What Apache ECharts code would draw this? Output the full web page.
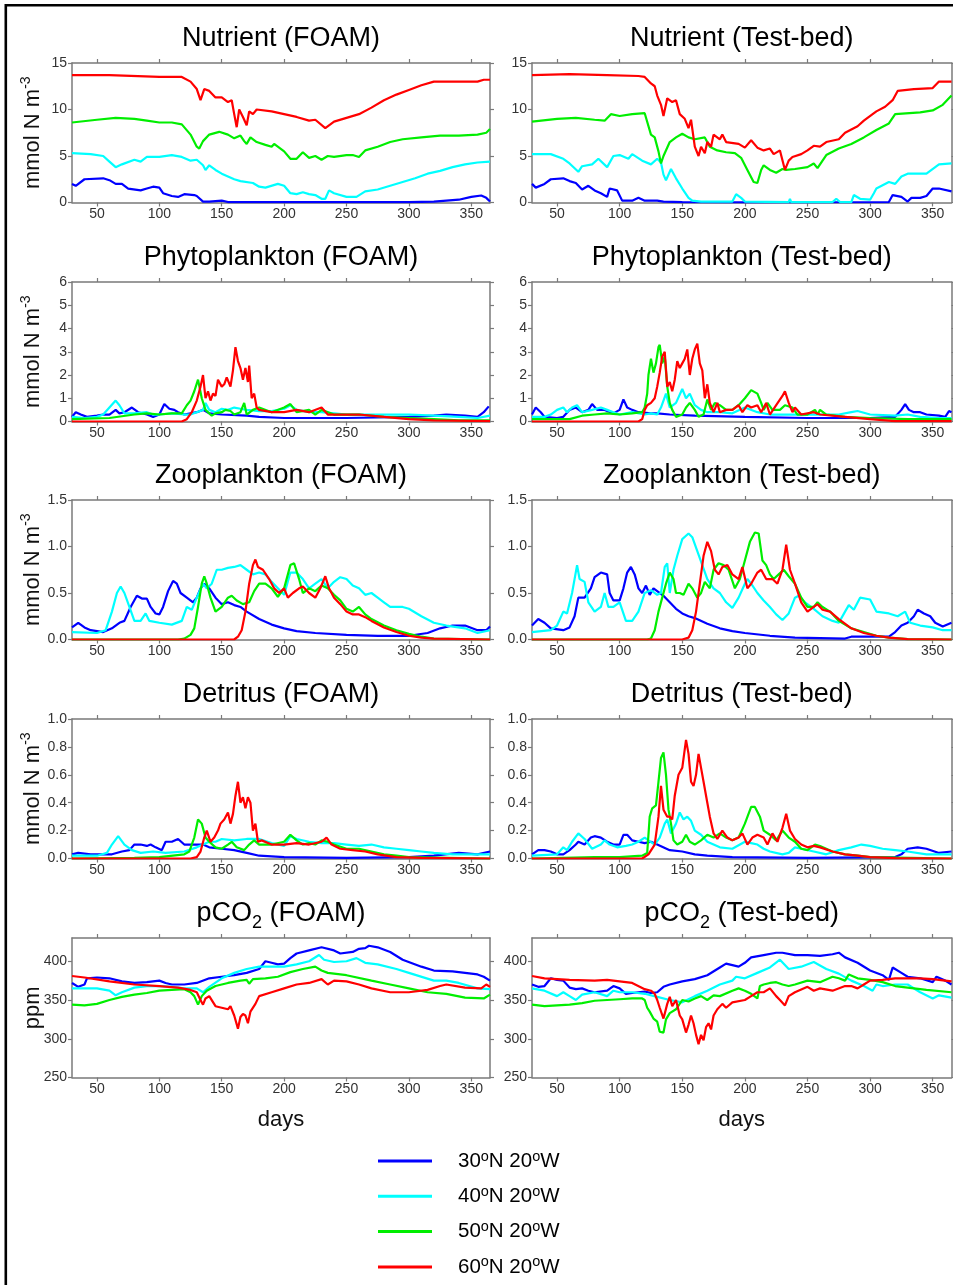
<!DOCTYPE html>
<html>
<head>
<meta charset="utf-8">
<script src="https://cdn.jsdelivr.net/npm/echarts@6/dist/echarts.min.js"></script>
<style>html,body{margin:0;padding:0;background:#fff}#c{width:953px;height:1285px}</style>
</head>
<body>
<div id="c"></div>
<script>
// ---------- categories / labels ----------
const LEGEND_NAMES = ['30°N 20°W', '40°N 20°W', '50°N 20°W', '60°N 20°W'];
const COLORS = ['#0000ff', '#00ffff', '#00ee00', '#ff0000'];
const X_TICKS = [50, 100, 150, 200, 250, 300, 350];
const ROW_TITLES = ['Nutrient', 'Phytoplankton', 'Zooplankton', 'Detritus', 'pCO{sub|2}'];
const COL_TITLES = ['FOAM', 'Test-bed'];
const Y_TICKS_NUT = [0, 5, 10, 15];
const Y_TICKS_PHY = [0, 1, 2, 3, 4, 5, 6];
const Y_TICKS_ZOO = [0, 0.5, 1.0, 1.5];
const Y_TICKS_DET = [0, 0.2, 0.4, 0.6, 0.8, 1.0];
const Y_TICKS_CO2 = [250, 300, 350, 400];

// ---------- Nutrient ----------
const NUT_FOAM_B = [[30,2.0],[33,1.8],[40,2.5],[55,2.6],[60,2.4],[65,2.0],[70,2.0],[75,1.5],[85,1.3],[90,1.5],[95,1.7],[100,1.6],[103,1.0],[110,0.7],[115,0.6],[120,0.9],[128,0.8],[130,0.7],[135,0.1],[140,0.1],[150,0.2],[155,0.05],[170,0.05],[200,0.03],[300,0.05],[320,0.1],[340,0.3],[350,0.6],[358,0.75],[362,0.5],[365,0.1]];
const NUT_FOAM_C = [[30,5.3],[45,5.2],[55,5.0],[60,4.4],[65,3.8],[70,4.1],[80,4.6],[85,4.4],[90,4.9],[100,4.9],[110,5.1],[118,4.9],[125,4.5],[130,4.6],[135,4.0],[137,3.5],[140,4.0],[145,3.5],[150,3.1],[160,2.5],[165,2.3],[175,2.1],[180,1.7],[185,1.6],[195,2.0],[200,1.8],[205,1.0],[210,0.9],[215,1.1],[220,0.9],[225,0.8],[230,0.4],[233,0.4],[236,1.3],[240,1.0],[250,0.6],[258,0.6],[265,1.2],[275,1.4],[285,1.8],[295,2.2],[305,2.6],[315,3.1],[325,3.4],[335,3.8],[345,4.1],[355,4.3],[365,4.4]];
const NUT_FOAM_G = [[30,8.6],[50,8.9],[65,9.1],[80,9.0],[90,8.8],[100,8.6],[110,8.6],[118,8.4],[125,7.3],[130,6.0],[132,5.8],[135,6.6],[140,7.3],[148,7.6],[155,7.3],[160,6.9],[165,7.2],[168,6.6],[170,6.3],[173,7.0],[178,6.5],[185,6.2],[190,6.0],[192,6.3],[200,5.5],[205,4.7],[210,4.7],[215,5.4],[220,4.8],[225,5.0],[230,4.6],[235,5.0],[240,4.9],[250,5.1],[255,5.1],[260,4.9],[265,5.6],[275,6.0],[285,6.5],[295,6.8],[310,7.0],[325,7.2],[340,7.2],[355,7.3],[362,7.5],[365,7.9]];
const NUT_FOAM_R = [[30,13.7],[60,13.7],[100,13.5],[118,13.5],[125,13.0],[130,12.2],[133,11.0],[136,12.2],[140,12.0],[145,11.3],[150,11.3],[155,10.8],[158,11.0],[160,9.5],[162,8.1],[164,10.0],[167,9.2],[170,8.3],[172,9.8],[175,9.5],[178,10.0],[190,9.8],[200,9.5],[210,9.2],[220,8.8],[225,8.9],[233,8.0],[240,8.7],[250,9.1],[260,9.5],[270,10.2],[280,11.0],[290,11.6],[300,12.1],[310,12.6],[320,13.0],[330,13.0],[340,13.0],[355,13.0],[360,13.2],[365,13.2]];
const NUT_TB_B = [[30,2.0],[33,1.6],[40,2.0],[45,2.5],[55,2.6],[60,2.3],[65,2.1],[70,1.4],[75,1.8],[80,1.3],[85,1.0],[90,0.6],[92,1.5],[98,1.3],[102,0.2],[110,0.2],[115,0.5],[120,0.2],[130,0.2],[135,0.1],[150,0.05],[200,0.02],[315,0.05],[318,0.8],[325,0.6],[330,0.1],[333,0.5],[340,0.5],[345,0.7],[350,1.5],[355,1.5],[365,1.2]];
const NUT_TB_C = [[30,5.2],[45,5.2],[55,4.7],[60,4.2],[67,3.3],[70,3.9],[78,4.1],[83,4.7],[90,3.8],[95,5.0],[100,5.1],[107,4.7],[110,5.2],[118,4.5],[125,4.1],[130,4.7],[133,4.3],[135,3.0],[137,2.4],[141,3.6],[145,2.6],[150,1.5],[155,0.5],[158,0.2],[165,0.1],[190,0.1],[193,0.9],[197,0.5],[200,0.1],[235,0.05],[236,0.4],[237,0.05],[270,0.05],[273,0.4],[276,0.05],[285,0.05],[287,0.8],[292,0.4],[300,0.3],[303,1.0],[305,1.5],[315,2.2],[320,2.0],[325,2.8],[330,3.1],[345,3.1],[355,4.1],[365,4.2]];
const NUT_TB_G = [[30,8.7],[50,9.0],[65,9.1],[80,8.9],[88,8.8],[93,9.5],[100,9.3],[110,9.5],[120,9.6],[125,7.3],[128,7.0],[131,5.5],[133,4.2],[135,5.0],[140,6.5],[145,7.0],[150,7.4],[155,7.0],[160,6.8],[168,7.0],[172,6.0],[178,5.6],[185,5.4],[192,5.3],[197,4.8],[202,3.5],[207,2.2],[210,2.1],[213,3.5],[215,4.0],[220,3.5],[225,3.2],[230,3.6],[233,3.5],[240,3.6],[250,3.8],[255,4.2],[258,3.7],[265,5.1],[275,5.8],[285,6.3],[295,7.0],[305,7.8],[315,8.5],[320,9.5],[340,9.7],[350,9.9],[358,10.5],[365,11.5]];
const NUT_TB_R = [[30,13.7],[60,13.8],[90,13.7],[115,13.6],[120,13.5],[125,12.8],[128,12.5],[130,11.5],[133,10.5],[135,9.3],[138,11.2],[142,10.8],[145,11.0],[148,9.5],[152,9.0],[155,8.0],[157,8.9],[160,6.0],[163,5.0],[165,6.0],[168,5.3],[170,6.5],[173,6.0],[175,7.3],[180,6.8],[182,7.3],[185,6.5],[195,6.3],[200,5.9],[205,6.7],[210,5.9],[215,5.6],[220,5.8],[223,5.2],[228,5.6],[232,3.5],[235,4.5],[238,4.9],[245,5.2],[250,5.6],[255,6.1],[260,6.0],[265,6.5],[275,6.8],[280,7.5],[290,8.2],[295,8.8],[305,9.8],[312,10.3],[318,11.0],[322,12.0],[335,12.2],[350,12.3],[355,13.0],[365,13.0]];

// ---------- Phytoplankton ----------
const PHY_FOAM_B = [[30,0.2],[33,0.4],[37,0.3],[42,0.2],[50,0.25],[55,0.3],[60,0.3],[65,0.5],[68,0.35],[72,0.4],[78,0.6],[83,0.4],[90,0.3],[95,0.2],[100,0.3],[104,0.75],[108,0.55],[112,0.5],[115,0.4],[120,0.3],[130,0.4],[135,0.5],[140,0.35],[150,0.3],[170,0.25],[180,0.2],[200,0.15],[250,0.15],[300,0.2],[320,0.25],[330,0.3],[345,0.25],[355,0.2],[360,0.4],[364,0.65]];
const PHY_FOAM_C = [[30,0.2],[40,0.15],[50,0.2],[55,0.3],[60,0.6],[65,0.9],[68,0.7],[72,0.35],[80,0.35],[90,0.4],[95,0.3],[100,0.3],[110,0.35],[120,0.3],[125,0.3],[130,0.4],[135,0.5],[137,0.8],[140,0.5],[145,0.4],[150,0.55],[155,0.5],[160,0.6],[165,0.55],[170,0.5],[180,0.45],[190,0.45],[200,0.55],[205,0.7],[210,0.5],[220,0.4],[230,0.4],[240,0.35],[250,0.3],[270,0.3],[300,0.3],[320,0.25],[340,0.2],[355,0.15],[365,0.25]];
const PHY_FOAM_G = [[30,0.1],[60,0.15],[80,0.3],[90,0.35],[100,0.3],[110,0.35],[118,0.35],[122,0.7],[125,0.9],[128,1.3],[131,1.8],[134,1.0],[137,0.5],[142,0.25],[145,0.35],[150,0.4],[153,0.5],[157,0.45],[160,0.3],[165,0.4],[168,0.8],[170,0.3],[175,0.5],[180,0.6],[190,0.4],[200,0.6],[205,0.75],[210,0.4],[220,0.5],[225,0.3],[230,0.5],[240,0.3],[250,0.3],[260,0.3],[280,0.2],[300,0.15],[320,0.1],[340,0.05],[365,0.05]];
const PHY_FOAM_R = [[30,0.0],[118,0.0],[122,0.1],[126,0.4],[130,0.9],[133,1.5],[135,2.0],[137,1.0],[139,1.3],[141,0.9],[143,1.2],[145,1.1],[147,1.8],[150,1.5],[152,1.6],[154,1.9],[157,1.5],[159,2.2],[161,3.2],[163,2.6],[165,2.3],[167,1.8],[169,2.3],[171,1.7],[172,2.4],[174,1.0],[176,1.2],[178,0.6],[180,0.5],[190,0.4],[200,0.4],[210,0.5],[220,0.4],[230,0.6],[235,0.3],[250,0.3],[260,0.3],[280,0.2],[300,0.1],[320,0.05],[365,0.02]];
const PHY_TB_B = [[30,0.3],[33,0.6],[37,0.4],[40,0.2],[50,0.15],[55,0.2],[60,0.5],[65,0.6],[70,0.4],[75,0.5],[78,0.75],[82,0.5],[88,0.5],[95,0.35],[100,0.5],[103,0.95],[106,0.6],[110,0.5],[115,0.4],[125,0.35],[130,0.35],[140,0.3],[160,0.25],[200,0.2],[250,0.15],[300,0.15],[320,0.2],[325,0.5],[328,0.75],[331,0.5],[335,0.4],[340,0.4],[345,0.3],[355,0.25],[360,0.2],[363,0.45],[365,0.4]];
const PHY_TB_C = [[30,0.2],[40,0.2],[45,0.3],[50,0.5],[55,0.6],[58,0.4],[62,0.6],[66,0.7],[70,0.4],[78,0.5],[85,0.6],[90,0.5],[95,0.4],[100,0.3],[110,0.4],[120,0.3],[125,0.35],[130,0.3],[133,0.6],[137,1.2],[140,0.6],[145,0.8],[150,1.4],[153,1.0],[156,1.2],[160,0.7],[165,0.5],[170,0.4],[180,0.4],[190,0.35],[200,0.6],[210,0.4],[220,0.3],[240,0.3],[260,0.3],[275,0.3],[285,0.4],[290,0.45],[300,0.3],[320,0.25],[330,0.3],[340,0.2],[355,0.15],[365,0.15]];
const PHY_TB_G = [[30,0.1],[60,0.1],[70,0.25],[80,0.3],[90,0.35],[100,0.3],[110,0.35],[118,0.4],[120,0.6],[122,1.2],[123,2.0],[125,2.7],[127,2.1],[129,2.5],[131,3.2],[132,3.3],[134,2.5],[136,2.8],[138,1.5],[140,0.8],[142,0.5],[145,0.2],[150,0.3],[153,0.6],[156,0.8],[160,0.5],[163,0.2],[167,0.3],[170,0.95],[173,0.5],[176,0.8],[180,0.7],[185,0.5],[190,0.5],[195,0.7],[200,1.0],[205,1.35],[210,1.2],[213,0.8],[215,0.5],[218,0.8],[222,0.5],[228,0.5],[232,0.7],[238,0.6],[242,0.3],[250,0.3],[256,0.5],[258,0.3],[260,0.5],[265,0.3],[280,0.2],[300,0.15],[330,0.1],[365,0.1]];
const PHY_TB_R = [[30,0.0],[115,0.0],[118,0.1],[120,0.5],[122,0.7],[125,0.8],[128,1.0],[130,1.5],[132,2.1],[134,2.8],[136,3.0],[138,1.5],[140,1.7],[142,1.3],[144,1.8],[146,2.6],[148,2.3],[150,2.5],[152,2.7],[154,3.1],[156,2.0],[158,2.7],[160,3.1],[162,3.35],[164,2.5],[166,2.2],[168,1.0],[170,1.6],[172,0.8],[175,0.4],[178,0.8],[180,0.4],[185,0.5],[190,0.5],[195,0.7],[198,0.4],[202,0.7],[205,0.6],[210,0.7],[213,0.4],[217,0.8],[220,0.3],[225,0.7],[230,1.1],[232,1.3],[235,0.8],[238,0.4],[240,0.6],[245,0.3],[255,0.4],[260,0.3],[280,0.2],[300,0.1],[320,0.02],[365,0.02]];

// ---------- Zooplankton ----------
const ZOO_FOAM_B = [[30,0.13],[35,0.18],[40,0.13],[45,0.1],[55,0.08],[62,0.12],[68,0.18],[72,0.2],[77,0.35],[82,0.47],[86,0.44],[90,0.44],[93,0.35],[97,0.28],[100,0.27],[103,0.35],[107,0.52],[111,0.63],[114,0.6],[117,0.5],[122,0.45],[127,0.4],[130,0.45],[133,0.55],[136,0.6],[140,0.55],[145,0.45],[150,0.38],[155,0.4],[160,0.37],[165,0.35],[170,0.3],[180,0.22],[190,0.16],[200,0.12],[210,0.09],[225,0.07],[250,0.05],[275,0.04],[300,0.04],[315,0.07],[325,0.12],[335,0.15],[345,0.15],[355,0.1],[362,0.1],[365,0.14]];
const ZOO_FOAM_C = [[30,0.08],[50,0.07],[57,0.1],[62,0.3],[66,0.5],[69,0.57],[72,0.5],[76,0.35],[80,0.2],[85,0.2],[89,0.28],[92,0.2],[100,0.18],[110,0.16],[118,0.2],[122,0.35],[126,0.32],[130,0.45],[135,0.6],[138,0.55],[142,0.6],[146,0.75],[150,0.75],[155,0.77],[160,0.78],[165,0.8],[170,0.75],[175,0.7],[180,0.72],[185,0.7],[190,0.62],[195,0.55],[200,0.48],[205,0.72],[210,0.72],[215,0.65],[220,0.55],[225,0.6],[230,0.65],[235,0.55],[240,0.62],[245,0.67],[250,0.65],[255,0.58],[260,0.55],[265,0.48],[270,0.5],[275,0.45],[280,0.4],[285,0.35],[290,0.35],[295,0.35],[300,0.33],[310,0.25],[320,0.18],[330,0.15],[345,0.12],[355,0.07],[365,0.1]];
const ZOO_FOAM_G = [[30,0.0],[115,0.0],[120,0.01],[125,0.05],[128,0.12],[131,0.35],[134,0.6],[136,0.68],[138,0.6],[141,0.45],[145,0.3],[150,0.35],[155,0.45],[158,0.47],[162,0.42],[167,0.38],[172,0.4],[176,0.52],[180,0.6],[185,0.6],[190,0.55],[195,0.46],[200,0.55],[205,0.8],[208,0.82],[212,0.65],[215,0.5],[220,0.55],[225,0.52],[230,0.58],[235,0.55],[240,0.48],[245,0.42],[250,0.33],[255,0.3],[260,0.35],[265,0.27],[270,0.22],[280,0.15],[290,0.1],[300,0.06],[310,0.03],[320,0.01],[365,0.0]];
const ZOO_FOAM_R = [[30,0.0],[160,0.0],[163,0.03],[166,0.1],[169,0.3],[172,0.6],[175,0.8],[177,0.86],[179,0.78],[183,0.75],[188,0.65],[192,0.55],[196,0.5],[200,0.55],[203,0.45],[207,0.5],[212,0.55],[215,0.57],[220,0.5],[225,0.45],[229,0.55],[233,0.68],[236,0.55],[240,0.45],[245,0.38],[250,0.3],[255,0.27],[260,0.27],[265,0.24],[270,0.2],[280,0.13],[290,0.08],[300,0.04],[310,0.02],[320,0.01],[365,0.0]];
const ZOO_TB_B = [[30,0.15],[35,0.22],[40,0.18],[45,0.12],[55,0.1],[60,0.13],[64,0.25],[67,0.45],[72,0.45],[77,0.55],[80,0.67],[85,0.72],[90,0.7],[92,0.5],[95,0.42],[100,0.42],[103,0.55],[106,0.72],[109,0.78],[112,0.7],[115,0.55],[118,0.5],[121,0.58],[124,0.48],[127,0.55],[130,0.52],[135,0.47],[140,0.4],[145,0.33],[150,0.28],[155,0.25],[160,0.23],[170,0.17],[180,0.12],[190,0.09],[200,0.07],[220,0.04],[240,0.02],[280,0.01],[285,0.03],[300,0.03],[315,0.03],[320,0.08],[325,0.15],[330,0.18],[335,0.25],[338,0.32],[343,0.28],[348,0.25],[352,0.18],[358,0.14],[365,0.18]];
const ZOO_TB_C = [[30,0.08],[45,0.1],[50,0.15],[55,0.3],[58,0.28],[62,0.5],[66,0.8],[68,0.65],[72,0.62],[75,0.4],[80,0.3],[85,0.35],[88,0.5],[91,0.35],[95,0.35],[100,0.4],[105,0.2],[110,0.2],[115,0.3],[120,0.5],[125,0.53],[130,0.48],[133,0.5],[136,0.78],[138,0.82],[140,0.5],[143,0.75],[146,0.9],[150,1.08],[155,1.14],[158,1.1],[162,0.95],[166,0.8],[170,0.65],[175,0.55],[180,0.5],[185,0.4],[190,0.34],[195,0.45],[200,0.6],[202,0.65],[205,0.6],[210,0.5],[215,0.42],[220,0.35],[225,0.27],[230,0.21],[235,0.28],[240,0.45],[243,0.47],[248,0.4],[255,0.33],[262,0.25],[270,0.2],[275,0.18],[280,0.3],[283,0.37],[287,0.32],[292,0.45],[300,0.43],[305,0.3],[315,0.28],[322,0.25],[328,0.3],[332,0.18],[340,0.15],[350,0.13],[358,0.1],[365,0.1]];
const ZOO_TB_G = [[30,0.0],[122,0.0],[125,0.01],[128,0.1],[131,0.3],[134,0.45],[137,0.6],[140,0.72],[143,0.65],[145,0.5],[148,0.5],[151,0.48],[155,0.6],[158,0.55],[162,0.45],[165,0.5],[168,0.62],[172,0.55],[175,0.75],[179,0.82],[183,0.8],[187,0.75],[192,0.55],[196,0.65],[200,0.85],[204,1.05],[208,1.15],[211,1.14],[214,0.85],[217,0.8],[220,0.7],[223,0.65],[227,0.7],[231,0.75],[235,0.68],[240,0.6],[245,0.45],[250,0.35],[255,0.35],[258,0.4],[262,0.35],[268,0.3],[275,0.2],[285,0.12],[295,0.08],[305,0.04],[315,0.02],[330,0.005],[365,0.0]];
const ZOO_TB_R = [[30,0.0],[150,0.0],[155,0.02],[158,0.1],[161,0.3],[164,0.6],[167,0.9],[170,1.05],[173,0.95],[176,0.75],[179,0.7],[182,0.78],[186,0.8],[190,0.7],[195,0.65],[198,0.78],[202,0.55],[205,0.6],[210,0.72],[213,0.75],[217,0.65],[222,0.65],[226,0.6],[230,0.75],[233,1.02],[236,0.75],[240,0.6],[245,0.4],[250,0.3],[255,0.35],[258,0.38],[262,0.32],[268,0.3],[275,0.22],[285,0.12],[295,0.07],[305,0.04],[315,0.02],[330,0.005],[365,0.0]];

// ---------- Detritus ----------
const DET_FOAM_B = [[30,0.03],[35,0.04],[45,0.03],[55,0.03],[62,0.03],[70,0.05],[76,0.06],[80,0.1],[85,0.1],[90,0.09],[93,0.1],[97,0.08],[102,0.06],[105,0.12],[110,0.12],[115,0.14],[120,0.1],[125,0.1],[130,0.1],[135,0.1],[140,0.08],[150,0.07],[160,0.06],[170,0.04],[180,0.02],[200,0.01],[250,0.005],[300,0.01],[320,0.02],[340,0.04],[355,0.03],[365,0.05]];
const DET_FOAM_C = [[30,0.02],[50,0.02],[58,0.04],[62,0.1],[67,0.16],[72,0.1],[78,0.06],[85,0.04],[95,0.05],[105,0.04],[120,0.05],[130,0.08],[135,0.1],[140,0.12],[145,0.12],[150,0.14],[160,0.13],[170,0.14],[180,0.14],[190,0.11],[200,0.09],[205,0.16],[210,0.14],[220,0.12],[230,0.11],[240,0.11],[250,0.1],[260,0.09],[270,0.1],[280,0.08],[290,0.07],[300,0.06],[310,0.05],[320,0.04],[335,0.03],[350,0.03],[365,0.03]];
const DET_FOAM_G = [[30,0.0],[80,0.005],[100,0.01],[120,0.03],[124,0.05],[128,0.15],[131,0.28],[134,0.25],[137,0.15],[140,0.12],[145,0.08],[150,0.07],[155,0.1],[158,0.12],[162,0.08],[168,0.06],[172,0.1],[176,0.13],[180,0.1],[190,0.1],[200,0.12],[205,0.17],[210,0.13],[215,0.1],[220,0.11],[225,0.1],[230,0.13],[235,0.12],[240,0.1],[250,0.07],[260,0.07],[270,0.05],[280,0.03],[290,0.02],[300,0.01],[365,0.0]];
const DET_FOAM_R = [[30,0.0],[125,0.0],[130,0.01],[133,0.05],[136,0.15],[138,0.2],[141,0.12],[144,0.15],[147,0.2],[149,0.25],[152,0.28],[155,0.33],[157,0.25],[159,0.32],[161,0.45],[163,0.55],[165,0.4],[167,0.44],[169,0.36],[171,0.44],[173,0.4],[175,0.2],[177,0.25],[179,0.12],[182,0.13],[190,0.1],[200,0.1],[210,0.11],[220,0.1],[230,0.12],[234,0.15],[238,0.1],[245,0.07],[255,0.06],[265,0.05],[275,0.03],[290,0.01],[310,0.005],[365,0.0]];
const DET_TB_B = [[30,0.03],[35,0.06],[40,0.06],[45,0.05],[50,0.03],[55,0.03],[60,0.06],[65,0.1],[67,0.12],[72,0.1],[77,0.15],[80,0.16],[85,0.15],[90,0.12],[95,0.1],[100,0.1],[103,0.17],[106,0.17],[110,0.13],[115,0.12],[120,0.11],[125,0.12],[130,0.1],[140,0.06],[150,0.05],[160,0.03],[170,0.02],[190,0.01],[250,0.005],[320,0.01],[325,0.03],[330,0.07],[338,0.08],[345,0.07],[355,0.04],[365,0.05]];
const DET_TB_C = [[30,0.02],[50,0.03],[55,0.08],[58,0.06],[62,0.12],[67,0.18],[72,0.14],[78,0.07],[85,0.1],[88,0.13],[92,0.1],[98,0.08],[105,0.09],[110,0.1],[115,0.12],[120,0.15],[123,0.13],[128,0.1],[132,0.15],[136,0.25],[138,0.28],[141,0.18],[145,0.25],[148,0.33],[151,0.28],[154,0.3],[157,0.27],[160,0.2],[165,0.17],[170,0.12],[180,0.08],[190,0.07],[200,0.12],[205,0.11],[210,0.1],[215,0.07],[220,0.05],[230,0.03],[235,0.04],[240,0.08],[245,0.07],[255,0.05],[265,0.03],[275,0.06],[285,0.08],[293,0.1],[300,0.09],[310,0.07],[320,0.06],[330,0.05],[345,0.03],[365,0.03]];
const DET_TB_G = [[30,0.0],[80,0.01],[100,0.01],[118,0.02],[122,0.04],[124,0.3],[126,0.36],[129,0.38],[131,0.55],[133,0.72],[135,0.76],[137,0.6],[139,0.35],[141,0.25],[143,0.13],[146,0.1],[150,0.12],[153,0.17],[156,0.12],[160,0.1],[165,0.13],[170,0.17],[175,0.15],[180,0.18],[185,0.15],[190,0.13],[195,0.15],[200,0.25],[205,0.37],[208,0.37],[212,0.3],[215,0.2],[220,0.17],[225,0.13],[230,0.2],[235,0.15],[240,0.12],[245,0.07],[250,0.06],[256,0.1],[260,0.09],[270,0.05],[280,0.03],[290,0.02],[300,0.01],[365,0.0]];
const DET_TB_R = [[30,0.0],[118,0.0],[123,0.03],[128,0.1],[131,0.3],[133,0.52],[135,0.35],[138,0.3],[140,0.3],[142,0.28],[144,0.45],[147,0.6],[150,0.65],[153,0.85],[155,0.75],[157,0.55],[159,0.52],[161,0.6],[163,0.75],[165,0.65],[167,0.55],[170,0.4],[172,0.3],[175,0.18],[178,0.14],[182,0.2],[186,0.15],[190,0.13],[195,0.15],[198,0.18],[202,0.1],[206,0.15],[210,0.17],[215,0.15],[218,0.1],[222,0.18],[226,0.12],[230,0.22],[233,0.32],[236,0.2],[240,0.14],[245,0.1],[250,0.08],[255,0.09],[260,0.08],[270,0.05],[280,0.03],[290,0.02],[300,0.01],[320,0.003],[365,0.0]];

// ---------- pCO2 ----------
const CO2_FOAM_B = [[30,372],[35,367],[40,370],[42,378],[50,379],[60,378],[70,374],[80,372],[90,373],[100,375],[105,372],[110,370],[120,370],[130,372],[140,378],[150,380],[160,382],[170,385],[180,390],[185,400],[190,398],[195,396],[200,397],[205,404],[210,410],[220,414],[230,418],[240,414],[245,410],[255,412],[260,416],[265,417],[268,420],[275,418],[285,412],[295,402],[310,393],[320,388],[335,387],[345,385],[355,383],[360,380],[365,375]];
const CO2_FOAM_C = [[30,365],[50,365],[60,362],[65,356],[70,360],[80,366],[90,368],[100,368],[110,367],[120,365],[130,365],[135,360],[140,367],[150,378],[160,385],[170,390],[180,393],[190,393],[200,393],[210,396],[220,400],[228,408],[232,402],[240,399],[250,400],[258,404],[265,398],[275,396],[290,390],[300,385],[320,375],[330,375],[340,372],[355,365],[365,364]];
const CO2_FOAM_G = [[30,344],[40,343],[50,345],[60,350],[70,354],[80,357],[90,359],[100,362],[110,363],[120,364],[125,360],[128,355],[131,344],[134,355],[138,362],[145,368],[155,372],[165,375],[170,376],[172,371],[175,377],[185,378],[195,380],[205,386],[215,390],[225,393],[230,388],[235,385],[250,382],[270,375],[285,370],[300,365],[315,360],[330,358],[345,353],[360,352],[365,357]];
const CO2_FOAM_R = [[30,381],[40,379],[60,374],[80,370],[100,368],[115,366],[125,363],[130,360],[133,350],[135,344],[137,352],[140,355],[145,342],[150,340],[155,338],[157,342],[160,330],[163,313],[165,328],[167,332],[169,330],[171,320],[173,335],[177,345],[180,355],[190,360],[200,365],[210,370],[220,372],[230,377],[235,370],[240,375],[250,374],[260,370],[270,365],[285,360],[300,360],[315,363],[325,368],[330,370],[345,366],[358,365],[362,370],[365,367]];
const CO2_TB_B = [[30,370],[35,367],[40,368],[45,378],[50,376],[55,375],[60,366],[65,364],[70,365],[75,362],[80,360],[90,362],[95,368],[100,365],[105,358],[110,359],[115,360],[120,361],[125,359],[130,360],[135,367],[140,370],[150,374],[160,377],[170,382],[180,392],[185,397],[190,395],[195,393],[200,398],[205,405],[215,408],[225,411],[230,411],[240,408],[250,408],[260,407],[270,409],[275,411],[280,405],[290,398],[300,388],[310,382],[315,376],[318,392],[325,385],[330,380],[340,378],[350,373],[353,380],[360,375],[365,370]];
const CO2_TB_C = [[30,365],[40,362],[50,355],[55,360],[60,355],[65,350],[70,357],[80,360],[90,355],[95,362],[100,360],[110,360],[120,358],[130,354],[140,350],[150,347],[160,355],[170,362],[180,370],[190,375],[193,380],[200,378],[210,385],[220,392],[228,402],[235,390],[245,393],[255,399],[265,390],[275,384],[285,375],[295,368],[302,362],[305,370],[310,368],[320,370],[330,370],[340,360],[350,352],[355,356],[365,353]];
const CO2_TB_G = [[30,344],[40,342],[50,343],[60,344],[70,346],[80,349],[90,350],[100,351],[110,352],[118,352],[120,350],[122,340],[124,335],[127,326],[130,322],[132,309],[135,308],[137,325],[140,333],[145,338],[150,350],[155,348],[160,352],[165,355],[170,350],[175,356],[180,355],[190,362],[195,365],[200,362],[205,358],[210,352],[212,368],[215,370],[220,372],[225,373],[230,370],[235,368],[240,370],[250,375],[260,373],[270,380],[275,378],[280,375],[283,383],[290,378],[300,376],[310,373],[320,368],[330,366],[345,363],[365,360]];
const CO2_TB_R = [[30,381],[40,378],[60,376],[80,375],[90,376],[100,374],[110,372],[120,364],[125,362],[128,358],[130,350],[132,340],[135,326],[138,345],[140,354],[142,342],[145,350],[148,330],[150,325],[153,308],[155,318],[157,330],[159,320],[161,305],[163,293],[165,305],[167,298],[169,315],[171,320],[173,312],[175,330],[178,338],[182,345],[185,340],[190,347],[200,350],[205,355],[210,360],[215,360],[220,365],[225,355],[228,350],[232,343],[235,355],[240,360],[250,367],[255,362],[260,365],[270,362],[280,368],[285,368],[290,365],[295,370],[300,375],[310,376],[320,378],[330,378],[340,378],[350,377],[360,375],[365,374]];

// ---------- panel setup ----------
const FONT = "'Liberation Sans', Arial, Helvetica, sans-serif";
const AXIS_COLOR = '#7a7a7a';
const ROWS = [
  { y: [0, 15, 5], ticks: Y_TICKS_NUT, fmt: v => String(v), unit: 'mmol N m{sup|-3}', data: [[NUT_FOAM_B, NUT_FOAM_C, NUT_FOAM_G, NUT_FOAM_R], [NUT_TB_B, NUT_TB_C, NUT_TB_G, NUT_TB_R]] },
  { y: [0, 6, 1], ticks: Y_TICKS_PHY, fmt: v => String(v), unit: 'mmol N m{sup|-3}', data: [[PHY_FOAM_B, PHY_FOAM_C, PHY_FOAM_G, PHY_FOAM_R], [PHY_TB_B, PHY_TB_C, PHY_TB_G, PHY_TB_R]] },
  { y: [0, 1.5, 0.5], ticks: Y_TICKS_ZOO, fmt: v => v.toFixed(1), unit: 'mmol N m{sup|-3}', data: [[ZOO_FOAM_B, ZOO_FOAM_C, ZOO_FOAM_G, ZOO_FOAM_R], [ZOO_TB_B, ZOO_TB_C, ZOO_TB_G, ZOO_TB_R]] },
  { y: [0, 1.0, 0.2], ticks: Y_TICKS_DET, fmt: v => v.toFixed(1), unit: 'mmol N m{sup|-3}', data: [[DET_FOAM_B, DET_FOAM_C, DET_FOAM_G, DET_FOAM_R], [DET_TB_B, DET_TB_C, DET_TB_G, DET_TB_R]] },
  { y: [250, 430, 50], ticks: Y_TICKS_CO2, fmt: v => String(v), unit: 'ppm', data: [[CO2_FOAM_B, CO2_FOAM_C, CO2_FOAM_G, CO2_FOAM_R], [CO2_TB_B, CO2_TB_C, CO2_TB_G, CO2_TB_R]] }
];
const COL_LEFT = [72, 532];
const COL_WIDTH = [418, 419.5];
const ROW_TOP = [63, 282, 500, 719, 938];
const PLOT_H = 139.5;

const grids = [], xAxes = [], yAxes = [], series = [], titles = [];
const lineStyleAxis = { color: AXIS_COLOR, width: 1.5 };

ROWS.forEach((row, r) => {
  [0, 1].forEach(c => {
    const g = grids.length;
    grids.push({ left: COL_LEFT[c], top: ROW_TOP[r], width: COL_WIDTH[c], height: PLOT_H, outerBoundsMode: 'none', containLabel: false });
    const isBottom = r === ROWS.length - 1;
    xAxes.push({
      type: 'value', gridIndex: g, min: 30, max: 365, position: 'bottom',
      axisLine: { show: true, onZero: false, lineStyle: lineStyleAxis },
      axisTick: { show: true, inside: false, length: 4, customValues: X_TICKS, lineStyle: { color: AXIS_COLOR, width: 1.2 } },
      axisLabel: { show: true, customValues: X_TICKS, color: '#333', fontSize: 14, margin: 5, fontFamily: FONT },
      splitLine: { show: false },
      name: isBottom ? 'days' : '', nameLocation: 'middle', nameGap: 29, nameMoveOverlap: false,
      nameTextStyle: { fontSize: 22, color: '#111', fontFamily: FONT, lineHeight: 26 }
    });
    xAxes.push({
      type: 'value', gridIndex: g, min: 30, max: 365, position: 'top',
      axisLine: { show: true, onZero: false, lineStyle: lineStyleAxis },
      axisTick: { show: true, inside: false, length: 4, customValues: X_TICKS, lineStyle: { color: AXIS_COLOR, width: 1.2 } },
      axisLabel: { show: false }, splitLine: { show: false }
    });
    yAxes.push({
      type: 'value', gridIndex: g, min: row.y[0], max: row.y[1], interval: row.y[2], position: 'left',
      axisLine: { show: true, onZero: false, lineStyle: lineStyleAxis },
      axisTick: { show: true, inside: false, length: 4, customValues: row.ticks, lineStyle: { color: AXIS_COLOR, width: 1.2 } },
      axisLabel: { show: true, customValues: row.ticks, formatter: row.fmt, color: '#333', fontSize: 14, margin: 5, fontFamily: FONT },
      splitLine: { show: false },
      name: c === 0 ? row.unit : '', nameLocation: 'middle', nameRotate: 90, nameGap: 25, nameMoveOverlap: false,
      nameTextStyle: { fontSize: 22, color: '#111', fontFamily: FONT, lineHeight: 28,
        rich: { sup: { fontSize: 14, verticalAlign: 'top', lineHeight: 14, color: '#111', fontFamily: FONT } } }
    });
    yAxes.push({
      type: 'value', gridIndex: g, min: row.y[0], max: row.y[1], interval: row.y[2], position: 'right',
      axisLine: { show: true, onZero: false, lineStyle: lineStyleAxis },
      axisTick: { show: true, inside: false, length: 4, customValues: row.ticks, lineStyle: { color: AXIS_COLOR, width: 1.2 } },
      axisLabel: { show: false }, splitLine: { show: false }
    });
    row.data[c].forEach((d, k) => {
      series.push({
        type: 'line', name: LEGEND_NAMES[k], xAxisIndex: 2 * g, yAxisIndex: 2 * g,
        data: d, showSymbol: false, symbol: 'none', color: COLORS[k],
        lineStyle: { width: 2.2, color: COLORS[k] }, animation: false, silent: true
      });
    });
    titles.push({
      text: ROW_TITLES[r] + ' (' + COL_TITLES[c] + ')',
      left: COL_LEFT[c] + COL_WIDTH[c] / 2, top: ROW_TOP[r] - 42, textAlign: 'center', padding: 0,
      textStyle: { fontSize: 27, fontWeight: 'normal', color: '#000', fontFamily: FONT, lineHeight: 36,
        rich: { sub: { fontSize: 18, verticalAlign: 'bottom', lineHeight: 18, color: '#000', fontFamily: FONT } } }
    });
  });
});

const chart = echarts.init(document.getElementById('c'), null, { renderer: 'canvas' });
chart.setOption({
  animation: false,
  backgroundColor: '#fff',
  title: titles,
  grid: grids,
  xAxis: xAxes,
  yAxis: yAxes,
  series: series,
  legend: {
    left: 373, top: 1144, orient: 'vertical', itemWidth: 54, itemHeight: 3, itemGap: 11.3,
    icon: 'rect', selectedMode: false, data: LEGEND_NAMES,
    formatter: n => n.replace(/°/g, '{sup|o}'),
    textStyle: { fontSize: 20.5, color: '#000', fontFamily: FONT, lineHeight: 24, padding: [0, 0, 0, 21],
      rich: { sup: { fontSize: 14.5, verticalAlign: 'top', lineHeight: 14, color: '#000', fontFamily: FONT } } }
  },
  graphic: [
    { type: 'line', shape: { x1: 5, y1: 5.3, x2: 953, y2: 5.3 }, style: { stroke: '#000', lineWidth: 2.6 }, silent: true },
    { type: 'line', shape: { x1: 5.8, y1: 4, x2: 5.8, y2: 1285 }, style: { stroke: '#000', lineWidth: 2.6 }, silent: true }
  ]
});
</script>
</body>
</html>
